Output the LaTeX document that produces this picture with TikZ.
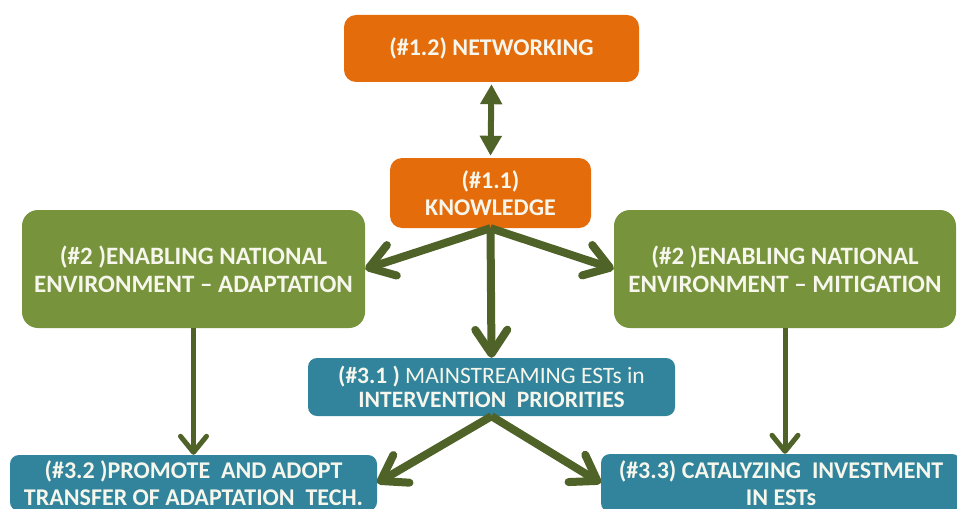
\documentclass[tikz,border=0pt]{standalone}
\usepackage{fontspec}
\setmainfont{Carlito}
\usetikzlibrary{arrows.meta}
\definecolor{orng}{HTML}{E46C0A}
\definecolor{grn}{HTML}{77933C}
\definecolor{blu}{HTML}{31849B}
\definecolor{arw}{HTML}{4F6228}
\definecolor{txt}{HTML}{F6F6EC}
\begin{document}
\begin{tikzpicture}[x=1pt,y=-1pt,
  box/.style={rounded corners=#1, text=txt, align=center, inner sep=0pt,
    font=\bfseries\fontsize{24}{27}\selectfont},
  orangebox/.style={box=12pt, fill=orng},
  greenbox/.style={box=16pt, fill=grn, font=\bfseries\fontsize{25}{28}\selectfont},
  bluebox/.style={box=9pt, fill=blu},
  twoway/.style={arw, line width=6pt, shorten <=2pt, shorten >=2pt,
    {Triangle[length=20pt,width=21pt]}-{Triangle[length=20pt,width=21pt]}},
  bigarrow/.style={arw, line width=8pt, -{Straight Barb[length=24pt,width=32pt,round]}},
  downarrow/.style={arw, line width=5pt, -{Straight Barb[length=16pt,width=26pt,round]}}]
\useasboundingbox (0,0) rectangle (957,508);
\clip (0,0) rectangle (957,508);

% boxes
\node[orangebox, minimum width=295pt, minimum height=67pt] (net) at (491.5,48.5)
  {(\#1.2) NETWORKING};
\node[orangebox, minimum width=201pt, minimum height=70pt] (know) at (490.5,193)
  {(\#1.1)\\KNOWLEDGE};
\node[greenbox, minimum width=343pt, minimum height=118pt] (adapt) at (193.5,269)
  {(\#2 )ENABLING NATIONAL\\ENVIRONMENT – ADAPTATION};
\node[greenbox, minimum width=342pt, minimum height=118pt] (mitig) at (785,269)
  {(\#2 )ENABLING NATIONAL\\ENVIRONMENT – MITIGATION};
\node[bluebox, minimum width=367pt, minimum height=58pt,
  font=\bfseries\fontsize{23.5}{24}\selectfont] (m31) at (491.5,387)
  {(\#3.1 ) {\mdseries MAINSTREAMING ESTs in}\\INTERVENTION\ \ PRIORITIES};
\node[bluebox, minimum width=367pt, minimum height=56pt] (p32) at (193.5,483)
  {(\#3.2 )PROMOTE\ \ AND ADOPT\\TRANSFER OF ADAPTATION\ \ TECH.};
\node[bluebox, minimum width=360pt, minimum height=58pt] (c33) at (781,483)
  {(\#3.3) CATALYZING\ \ INVESTMENT\\IN ESTs};

% connectors
\draw[twoway] (net.south) -- (know.north);
\draw[bigarrow] (know.south) -- (adapt.east);
\draw[bigarrow] (know.south) -- (mitig.west);
\draw[bigarrow] (know.south) -- (m31.north);
\draw[downarrow] (adapt.south) -- (p32.north);
\draw[downarrow] (mitig.south) -- ([xshift=4pt]c33.north);
\draw[bigarrow] (m31.south) -- (p32.east);
\draw[bigarrow] (m31.south) -- (c33.west);
\end{tikzpicture}
\end{document}
